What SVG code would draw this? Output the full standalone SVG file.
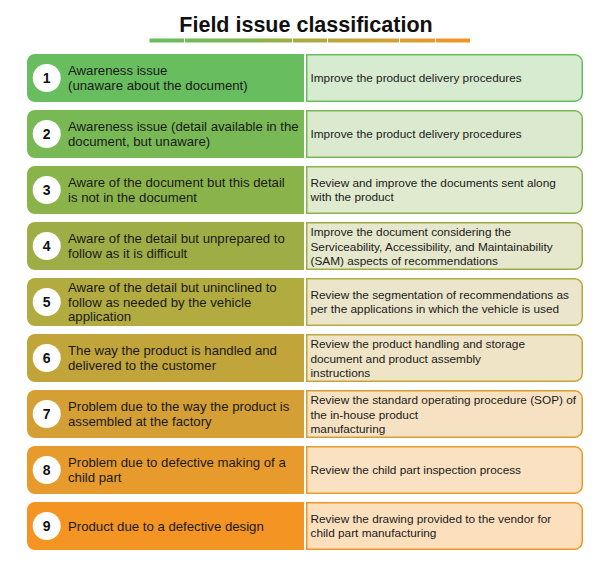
<svg xmlns="http://www.w3.org/2000/svg" width="603" height="562" viewBox="0 0 603 562">
<defs>
<linearGradient id="bar" x1="149" y1="0" x2="470" y2="0" gradientUnits="userSpaceOnUse">
<stop offset="0" stop-color="#68bd5f"/>
<stop offset="0.3" stop-color="#80b650"/>
<stop offset="0.5" stop-color="#aeab40"/>
<stop offset="0.75" stop-color="#d59f35"/>
<stop offset="1" stop-color="#f39423"/>
</linearGradient>
</defs>
<style>
.title{font-family:"Liberation Sans",Arial,sans-serif;font-weight:bold;font-size:21.5px;fill:#111;}
.num{font-family:"Liberation Sans",Arial,sans-serif;font-weight:bold;font-size:14px;fill:#111;}
.lt{font-family:"Liberation Sans",Arial,sans-serif;font-size:13.2px;fill:#1a1a1a;}
.rt{font-family:"Liberation Sans",Arial,sans-serif;font-size:11.8px;fill:#1a1a1a;}
.circ{fill:#ffffff;}
.rb{stroke-width:1.5;}
</style>
<rect width="603" height="562" fill="#ffffff"/>
<g id="title">
<text class="title" x="306" y="31.5" text-anchor="middle">Field issue classification</text>
<rect x="149.5" y="38.5" width="320.5" height="4" fill="url(#bar)"/>
<g fill="#ffffff">
<rect x="184" y="38" width="1" height="5"/>
<rect x="292" y="38" width="1" height="5"/>
<rect x="327" y="38" width="1" height="5"/>
<rect x="399" y="38" width="1" height="5"/>
<rect x="435" y="38" width="1" height="5"/>
</g>
</g>
<g id="connectors"></g>

<g id="row1" transform="translate(0,54)">
<path d="M304,0 V48 H35 A8,8 0 0 1 27,40 V8 A8,8 0 0 1 35,0 Z" fill="#68bd5f"/>
<path class="rb" d="M306.75,0.75 H575 A7.5,7.5 0 0 1 582.25,8 V40 A7.5,7.5 0 0 1 575,47.25 H306.75 Z" fill="#d7ebd1" stroke="#68bd5f"/>
<circle class="circ" cx="46.7" cy="24" r="14"/>
<text class="num" x="46.7" y="29" text-anchor="middle">1</text>
<text class="lt" x="68" y="21.4">Awareness issue</text>
<text class="lt" x="68" y="35.9">(unaware about the document)</text>
<text class="rt" x="310.5" y="28.2">Improve the product delivery procedures</text>
</g>

<g id="row2" transform="translate(0,110)">
<path d="M304,0 V48 H35 A8,8 0 0 1 27,40 V8 A8,8 0 0 1 35,0 Z" fill="#78b955"/>
<path class="rb" d="M306.75,0.75 H575 A7.5,7.5 0 0 1 582.25,8 V40 A7.5,7.5 0 0 1 575,47.25 H306.75 Z" fill="#dbeacf" stroke="#78b955"/>
<circle class="circ" cx="46.7" cy="24" r="14"/>
<text class="num" x="46.7" y="29" text-anchor="middle">2</text>
<text class="lt" x="68" y="21.4">Awareness issue (detail available in the</text>
<text class="lt" x="68" y="35.9">document, but unaware)</text>
<text class="rt" x="310.5" y="28.2">Improve the product delivery procedures</text>
</g>

<g id="row3" transform="translate(0,166)">
<path d="M304,0 V48 H35 A8,8 0 0 1 27,40 V8 A8,8 0 0 1 35,0 Z" fill="#8bb34b"/>
<path class="rb" d="M306.75,0.75 H575 A7.5,7.5 0 0 1 582.25,8 V40 A7.5,7.5 0 0 1 575,47.25 H306.75 Z" fill="#e0eacf" stroke="#8bb34b"/>
<circle class="circ" cx="46.7" cy="24" r="14"/>
<text class="num" x="46.7" y="29" text-anchor="middle">3</text>
<text class="lt" x="68" y="21.4">Aware of the document but this detail</text>
<text class="lt" x="68" y="35.9">is not in the document</text>
<text class="rt" x="310.5" y="20.95">Review and improve the documents sent along</text>
<text class="rt" x="310.5" y="35.45">with the product</text>
</g>

<g id="row4" transform="translate(0,222)">
<path d="M304,0 V48 H35 A8,8 0 0 1 27,40 V8 A8,8 0 0 1 35,0 Z" fill="#9ead45"/>
<path class="rb" d="M306.75,0.75 H575 A7.5,7.5 0 0 1 582.25,8 V40 A7.5,7.5 0 0 1 575,47.25 H306.75 Z" fill="#e5e8cc" stroke="#9ead45"/>
<circle class="circ" cx="46.7" cy="24" r="14"/>
<text class="num" x="46.7" y="29" text-anchor="middle">4</text>
<text class="lt" x="68" y="21.4">Aware of the detail but unprepared to</text>
<text class="lt" x="68" y="35.9">follow as it is difficult</text>
<text class="rt" x="310.5" y="13.9">Improve the document considering the</text>
<text class="rt" x="310.5" y="28.5">Serviceability, Accessibility, and Maintainability</text>
<text class="rt" x="310.5" y="43.1">(SAM) aspects of recommendations</text>
</g>

<g id="row5" transform="translate(0,278)">
<path d="M304,0 V48 H35 A8,8 0 0 1 27,40 V8 A8,8 0 0 1 35,0 Z" fill="#b2ab3f"/>
<path class="rb" d="M306.75,0.75 H575 A7.5,7.5 0 0 1 582.25,8 V40 A7.5,7.5 0 0 1 575,47.25 H306.75 Z" fill="#ebe6cb" stroke="#b2ab3f"/>
<circle class="circ" cx="46.7" cy="24" r="14"/>
<text class="num" x="46.7" y="29" text-anchor="middle">5</text>
<text class="lt" x="68" y="14.2">Aware of the detail but uninclined to</text>
<text class="lt" x="68" y="28.7">follow as needed by the vehicle</text>
<text class="lt" x="68" y="43.2">application</text>
<text class="rt" x="310.5" y="20.95">Review the segmentation of recommendations as</text>
<text class="rt" x="310.5" y="35.45">per the applications in which the vehicle is used</text>
</g>

<g id="row6" transform="translate(0,334)">
<path d="M304,0 V48 H35 A8,8 0 0 1 27,40 V8 A8,8 0 0 1 35,0 Z" fill="#c2a53a"/>
<path class="rb" d="M306.75,0.75 H575 A7.5,7.5 0 0 1 582.25,8 V40 A7.5,7.5 0 0 1 575,47.25 H306.75 Z" fill="#f0e4c6" stroke="#c2a53a"/>
<circle class="circ" cx="46.7" cy="24" r="14"/>
<text class="num" x="46.7" y="29" text-anchor="middle">6</text>
<text class="lt" x="68" y="21.4">The way the product is handled and</text>
<text class="lt" x="68" y="35.9">delivered to the customer</text>
<text class="rt" x="310.5" y="13.9">Review the product handling and storage</text>
<text class="rt" x="310.5" y="28.5">document and product assembly</text>
<text class="rt" x="310.5" y="43.1">instructions</text>
</g>

<g id="row7" transform="translate(0,390)">
<path d="M304,0 V48 H35 A8,8 0 0 1 27,40 V8 A8,8 0 0 1 35,0 Z" fill="#d49f35"/>
<path class="rb" d="M306.75,0.75 H575 A7.5,7.5 0 0 1 582.25,8 V40 A7.5,7.5 0 0 1 575,47.25 H306.75 Z" fill="#f6e2c2" stroke="#d49f35"/>
<circle class="circ" cx="46.7" cy="24" r="14"/>
<text class="num" x="46.7" y="29" text-anchor="middle">7</text>
<text class="lt" x="68" y="21.4">Problem due to the way the product is</text>
<text class="lt" x="68" y="35.9">assembled at the factory</text>
<text class="rt" x="310.5" y="13.9">Review the standard operating procedure (SOP) of</text>
<text class="rt" x="310.5" y="28.5">the in-house product</text>
<text class="rt" x="310.5" y="43.1">manufacturing</text>
</g>

<g id="row8" transform="translate(0,446)">
<path d="M304,0 V48 H35 A8,8 0 0 1 27,40 V8 A8,8 0 0 1 35,0 Z" fill="#e79b2d"/>
<path class="rb" d="M306.75,0.75 H575 A7.5,7.5 0 0 1 582.25,8 V40 A7.5,7.5 0 0 1 575,47.25 H306.75 Z" fill="#f9e1c1" stroke="#e79b2d"/>
<circle class="circ" cx="46.7" cy="24" r="14"/>
<text class="num" x="46.7" y="29" text-anchor="middle">8</text>
<text class="lt" x="68" y="21.4">Problem due to defective making of a</text>
<text class="lt" x="68" y="35.9">child part</text>
<text class="rt" x="310.5" y="28.2">Review the child part inspection process</text>
</g>

<g id="row9" transform="translate(0,502)">
<path d="M304,0 V48 H35 A8,8 0 0 1 27,40 V8 A8,8 0 0 1 35,0 Z" fill="#f39423"/>
<path class="rb" d="M306.75,0.75 H575 A7.5,7.5 0 0 1 582.25,8 V40 A7.5,7.5 0 0 1 575,47.25 H306.75 Z" fill="#fce0be" stroke="#f39423"/>
<circle class="circ" cx="46.7" cy="24" r="14"/>
<text class="num" x="46.7" y="29" text-anchor="middle">9</text>
<text class="lt" x="68" y="28.7">Product due to a defective design</text>
<text class="rt" x="310.5" y="20.95">Review the drawing provided to the vendor for</text>
<text class="rt" x="310.5" y="35.45">child part manufacturing</text>
</g>
</svg>
